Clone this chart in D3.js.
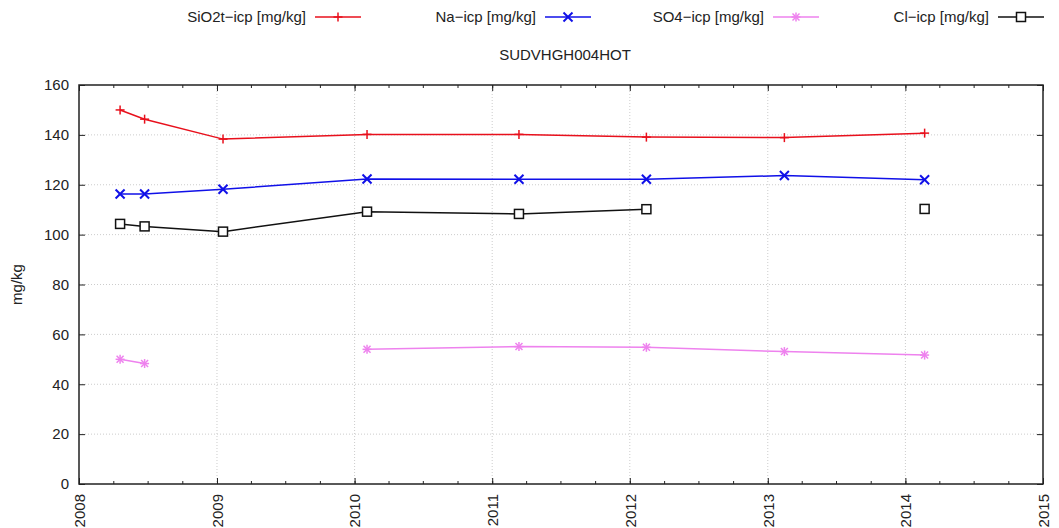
<!DOCTYPE html>
<html><head><meta charset="utf-8">
<script src="https://cdn.jsdelivr.net/npm/d3@7"></script>
<style>
body{margin:0;background:#fff;}
text{font-family:"Liberation Sans",Arial,sans-serif;fill:#222;}
</style></head>
<body><svg id="c" width="1059" height="528"></svg>
<script>
const title = "SUDVHGH004HOT";
const yLabel = "mg/kg";
const dates = ["2008-04-19","2008-06-23","2009-01-17","2010-02-03","2011-03-13","2012-02-14","2013-02-14","2014-02-21"];
const seriesNames = ["SiO2t\u2212icp [mg/kg]","Na\u2212icp [mg/kg]","SO4\u2212icp [mg/kg]","Cl\u2212icp [mg/kg]"];
const sio2 = [150, 146.3, 138.3, 140.2, 140.2, 139.1, 138.9, 140.7];
const na   = [116.3, 116.3, 118.2, 122.3, 122.2, 122.2, 123.7, 122];
const so4  = [50, 48.3, null, 54, 55.1, 54.8, 53.1, 51.7];
const cl   = [104.3, 103.3, 101.2, 109.2, 108.3, 110.2, null, 110.3];
const yTicks = [0,20,40,60,80,100,120,140,160];
const xTickYears = [2008,2009,2010,2011,2012,2013,2014,2015];

const colors = ["#e8101c","#1010e8","#ee82ee","#111111"];
const markers = ["plus","cross","star","square"];
const seriesVals = [sio2, na, so4, cl];
const FS = 15;

const svg = d3.select("#c");
const L=79, R=1043, T=85, B=484;
const parse = d3.timeParse("%Y-%m-%d");
const x = d3.scaleTime().domain([new Date(2008,0,1), new Date(2015,0,1)]).range([L,R]);
const y = d3.scaleLinear().domain([0,160]).range([B,T]);
const yearDates = xTickYears.map(yr=>new Date(yr,0,1));
const minorDates = d3.timeMonth.every(3).range(new Date(2008,0,1), new Date(2015,0,2));

// grid
const g = svg.append("g");
g.selectAll(".gx").data(yearDates.slice(1,-1)).join("line")
 .attr("x1",d=>x(d)).attr("x2",d=>x(d)).attr("y1",T).attr("y2",B)
 .attr("stroke","#cccccc").attr("stroke-width",1).attr("stroke-dasharray","1,2");
g.selectAll(".gy").data(yTicks.slice(1,-1)).join("line")
 .attr("x1",L).attr("x2",R).attr("y1",d=>y(d)).attr("y2",d=>y(d))
 .attr("stroke","#cccccc").attr("stroke-width",1).attr("stroke-dasharray","1,2");

// axes (ticks inward)
const axB = d3.axisBottom(x).tickValues(yearDates).tickFormat(d3.timeFormat("%Y")).tickSizeInner(-6).tickSizeOuter(0);
const gb = svg.append("g").attr("transform",`translate(0,${B})`).call(axB);
gb.select(".domain").remove();
gb.selectAll(".tick line").attr("stroke","#222");
gb.selectAll(".tick text").attr("font-size",FS).attr("transform","rotate(-90)")
  .attr("text-anchor","end").attr("x",-10).attr("y",0).attr("dy","0.35em")
  .style("font-family","Liberation Sans, Arial, sans-serif").attr("fill","#222");

const axBm = d3.axisBottom(x).tickValues(minorDates).tickFormat("").tickSizeInner(-3).tickSizeOuter(0);
const gbm = svg.append("g").attr("transform",`translate(0,${B})`).call(axBm);
gbm.select(".domain").remove(); gbm.selectAll(".tick line").attr("stroke","#222");
const axT = d3.axisTop(x).tickValues(yearDates).tickFormat("").tickSizeInner(-6).tickSizeOuter(0);
const gt = svg.append("g").attr("transform",`translate(0,${T})`).call(axT);
gt.select(".domain").remove(); gt.selectAll(".tick line").attr("stroke","#222");
const axTm = d3.axisTop(x).tickValues(minorDates).tickFormat("").tickSizeInner(-3).tickSizeOuter(0);
const gtm = svg.append("g").attr("transform",`translate(0,${T})`).call(axTm);
gtm.select(".domain").remove(); gtm.selectAll(".tick line").attr("stroke","#222");

const axL = d3.axisLeft(y).tickValues(yTicks).tickSizeInner(-6).tickSizeOuter(0).tickPadding(10);
const gl = svg.append("g").attr("transform",`translate(${L},0)`).call(axL);
gl.select(".domain").remove();
gl.selectAll(".tick line").attr("stroke","#222");
gl.selectAll(".tick text").attr("font-size",FS).style("font-family","Liberation Sans, Arial, sans-serif").attr("fill","#222");
const axR = d3.axisRight(y).tickValues(yTicks).tickFormat("").tickSizeInner(-6).tickSizeOuter(0);
const gr = svg.append("g").attr("transform",`translate(${R},0)`).call(axR);
gr.select(".domain").remove(); gr.selectAll(".tick line").attr("stroke","#222");

svg.append("rect").attr("x",L).attr("y",T).attr("width",R-L).attr("height",B-T)
 .attr("fill","none").attr("stroke","#222").attr("stroke-width",1.5);

function drawMarker(sel, type, color){
  const s=4.5;
  if(type==="plus"||type==="star"){
    sel.append("line").attr("x1",-s).attr("x2",s).attr("y1",0).attr("y2",0);
    sel.append("line").attr("x1",0).attr("x2",0).attr("y1",-s).attr("y2",s);
  }
  if(type==="cross"||type==="star"){
    const c = type==="star"?3.5:s;
    sel.append("line").attr("x1",-c).attr("x2",c).attr("y1",-c).attr("y2",c);
    sel.append("line").attr("x1",-c).attr("x2",c).attr("y1",c).attr("y2",-c);
  }
  if(type==="square"){
    sel.append("rect").attr("x",-4.5).attr("y",-4.5).attr("width",9).attr("height",9);
  }
  sel.selectAll("*").attr("stroke",color).attr("stroke-width",type==="cross"?2:1.5);
  if(type==="square") sel.selectAll("rect").attr("fill","#fff");
}

const line = d3.line().defined(d=>d.v!=null).x(d=>x(d.t)).y(d=>y(d.v));
seriesVals.forEach((vals,i)=>{
  const data = dates.map((d,j)=>({t:parse(d), v:vals[j]}));
  svg.append("path").datum(data).attr("d",line).attr("fill","none")
    .attr("stroke",colors[i]).attr("stroke-width",1.5);
  data.filter(d=>d.v!=null).forEach(d=>{
    const m = svg.append("g").attr("transform",`translate(${x(d.t)},${y(d.v)})`);
    drawMarker(m, markers[i], colors[i]);
  });
});

// legend
const legX = [315,545,773,998];
seriesNames.forEach((n,i)=>{
  const lx = legX[i], ly = 17;
  svg.append("text").attr("x",lx-9).attr("y",ly).attr("dy","0.35em").attr("text-anchor","end")
    .attr("font-size",FS).text(n);
  svg.append("line").attr("x1",lx).attr("x2",lx+46).attr("y1",ly).attr("y2",ly)
    .attr("stroke",colors[i]).attr("stroke-width",1.5);
  const m = svg.append("g").attr("transform",`translate(${lx+23},${ly})`);
  drawMarker(m, markers[i], colors[i]);
});

svg.append("text").attr("x",(L+R)/2+4).attr("y",60).attr("text-anchor","middle").attr("font-size",FS).text(title);
svg.append("text").attr("transform",`translate(17,${(T+B)/2}) rotate(-90)`).attr("text-anchor","middle")
  .attr("dy","0.35em").attr("font-size",FS).text(yLabel);
</script></body></html>
